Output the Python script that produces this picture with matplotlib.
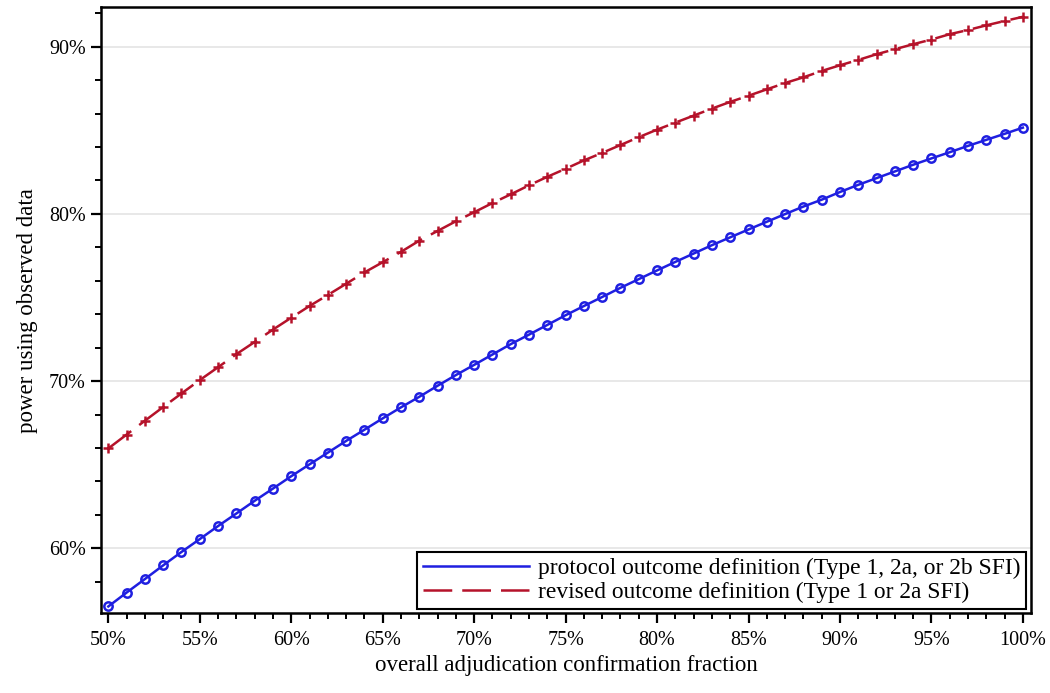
import numpy as np
import matplotlib.pyplot as plt
from matplotlib.ticker import MultipleLocator, FuncFormatter

# adjudication confirmation fraction (%)
fraction = list(range(50, 101))

# power, protocol outcome definition (Type 1, 2a, or 2b SFI)
power_protocol = [
    56.52, 57.35, 58.16, 58.98, 59.78, 60.55, 61.33, 62.08, 62.84, 63.57,
    64.31, 65.02, 65.72, 66.42, 67.09, 67.77, 68.43, 69.06, 69.72, 70.36,
    70.97, 71.59, 72.21, 72.78, 73.36, 73.94, 74.49, 75.03, 75.58, 76.10,
    76.62, 77.13, 77.63, 78.13, 78.60, 79.07, 79.53, 79.99, 80.44, 80.85,
    81.31, 81.74, 82.14, 82.54, 82.94, 83.32, 83.69, 84.07, 84.43, 84.79,
    85.16,
]

# power, revised outcome definition (Type 1 or 2a SFI)
power_revised = [
    65.97, 66.80, 67.63, 68.45, 69.26, 70.06, 70.83, 71.61, 72.34, 73.08,
    73.79, 74.49, 75.15, 75.82, 76.50, 77.11, 77.73, 78.40, 78.98, 79.56,
    80.10, 80.65, 81.17, 81.71, 82.22, 82.70, 83.20, 83.65, 84.12, 84.59,
    85.04, 85.46, 85.88, 86.30, 86.70, 87.07, 87.45, 87.83, 88.17, 88.55,
    88.89, 89.21, 89.55, 89.85, 90.15, 90.43, 90.75, 91.00, 91.28, 91.54,
    91.79,
]

BLUE = "#1f1fe0"
RED = "#b5122a"

plt.rcParams["font.family"] = ["Liberation Serif", "DejaVu Serif"]

fig = plt.figure(figsize=(10.5, 6.93), dpi=100)
ax = fig.add_axes([0.0962, 0.115, 0.8858, 0.8745])

ax.plot(fraction, power_protocol, color=BLUE, lw=1.8, marker="o", ms=6,
        mfc="none", mec=BLUE, mew=1.8,
        label="protocol outcome definition (Type 1, 2a, or 2b SFI)")
ax.plot(fraction, power_revised, color=RED, lw=1.8, ls=(0, (11.5, 4)),
        marker="+", ms=6.5, mew=1.8, mec=RED,
        label="revised outcome definition (Type 1 or 2a SFI)")

ax.set_xlim(49.6, 100.45)
ax.set_ylim(56.11, 92.36)

ax.xaxis.set_major_locator(MultipleLocator(5))
ax.xaxis.set_minor_locator(MultipleLocator(1))
ax.yaxis.set_major_locator(MultipleLocator(10))
ax.yaxis.set_minor_locator(MultipleLocator(2))
pct = FuncFormatter(lambda v, p: f"{v:.0f}%")
ax.xaxis.set_major_formatter(pct)
ax.yaxis.set_major_formatter(pct)

ax.tick_params(which="major", direction="out", length=7, width=1.6,
               labelsize=14.5, colors="black", pad=4)
ax.tick_params(which="minor", direction="out", length=4.5, width=1.4)
ax.tick_params(axis="x", which="major", pad=6)

ax.grid(axis="y", which="major", color="#e4e4e4", lw=1.2)
ax.set_axisbelow(True)

for s in ax.spines.values():
    s.set_linewidth(1.8)
    s.set_color("black")

ax.set_xlabel("overall adjudication confirmation fraction", fontsize=16.5,
              labelpad=3)
ax.set_ylabel("power using observed data", fontsize=16.5, labelpad=8)

leg = ax.legend(loc="lower right", fontsize=16.9, handlelength=4.5,
                handletextpad=0.4, borderpad=0.25, labelspacing=0.1,
                frameon=True, fancybox=False, framealpha=1,
                borderaxespad=0.2)
leg.get_frame().set_edgecolor("black")
leg.get_frame().set_linewidth(1.5)
for h in leg.legend_handles:
    h.set_marker("")

fig.savefig("out.png", dpi=100)
